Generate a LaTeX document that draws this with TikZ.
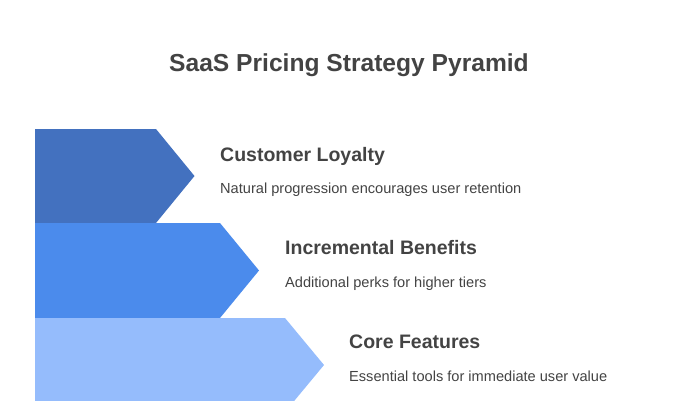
\documentclass[tikz,border=0pt]{standalone}
\usepackage{fontspec}
\setmainfont{Liberation Sans}
\definecolor{tierA}{HTML}{4371BF}
\definecolor{tierB}{HTML}{4B8BEC}
\definecolor{tierC}{HTML}{95BCFC}
\definecolor{txt}{HTML}{434343}
\begin{document}
\begin{tikzpicture}[x=1pt,y=-1pt,
  heading/.style={anchor=base west,inner sep=0pt,text=txt,font=\fontsize{19.5}{22}\selectfont\bfseries},
  desc/.style={anchor=base west,inner sep=0pt,text=txt,font=\fontsize{14.6}{17}\selectfont},
  titlestyle/.style={anchor=base,inner sep=0pt,text=txt,font=\fontsize{24.6}{28}\selectfont\bfseries}]
\useasboundingbox (0,0) rectangle (700,400);
\begin{scope}
\clip (0,0) rectangle (700,400);
\fill[tierA] (35,129) -- (156,129) -- (194.5,176) -- (156,223) -- (35,223) -- cycle;
\fill[tierB] (35,223) -- (220,223) -- (259,270.5) -- (220,318) -- (35,318) -- cycle;
\fill[tierC] (35,318) -- (285,318) -- (324,365) -- (285,412) -- (35,412) -- cycle;
\end{scope}
\node[titlestyle] (title) at (349,71.5) {SaaS Pricing Strategy Pyramid};
\node[heading] (h1) at (220,161) {Customer Loyalty};
\node[desc] (d1) at (220,193.5) {Natural progression encourages user retention};
\node[heading] (h2) at (285,254.5) {Incremental Benefits};
\node[desc] (d2) at (285,287) {Additional perks for higher tiers};
\node[heading] (h3) at (349,348) {Core Features};
\node[desc] (d3) at (349,381) {Essential tools for immediate user value};
\end{tikzpicture}
\end{document}
